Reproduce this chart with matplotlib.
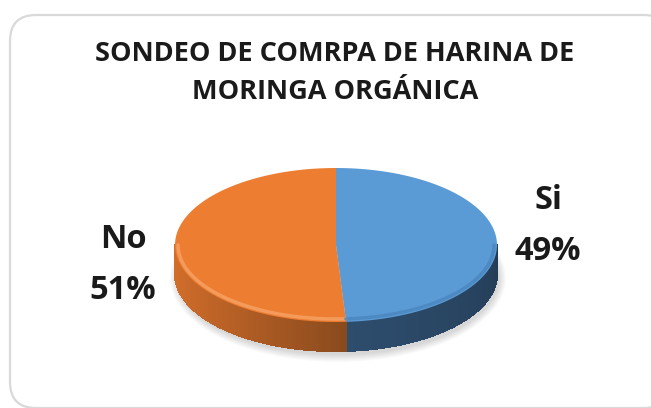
import numpy as np
import matplotlib.pyplot as plt
from matplotlib.colors import to_rgb
from matplotlib.patches import Polygon, FancyBboxPatch, Ellipse

# ── DATA ──────────────────────────────────────────
labels = ["Si", "No"]
values = [49, 51]
top_colors = ["#5B9BD5", "#ED7D31"]
side_light = ["#34587c", "#d36e2b"]
side_dark = ["#243d57", "#8a4a1d"]
title = "SONDEO DE COMRPA DE HARINA DE\nMORINGA ORGÁNICA"

# ── GEOMETRY (pixels) ─────────────────────────────
cx, cy = 336, 245
a, b = 161, 77
depth = 29

fig = plt.figure(figsize=(6.51, 4.08), dpi=100)
ax = fig.add_axes([0, 0, 1, 1])
ax.set_xlim(0, 651)
ax.set_ylim(408, 0)
ax.axis('off')

# chart frame
frame = FancyBboxPatch((10, 15), 660, 393, boxstyle="round,pad=0,rounding_size=26",
                       fc='white', ec='#d9d9d9', lw=1.6, zorder=0)
ax.add_patch(frame)

def pt(theta, dy=0):
    t = np.radians(theta)
    return cx + a * np.cos(t), cy - b * np.sin(t) + dy

# soft shadow
for i in range(8):
    ax.add_patch(Ellipse((cx + 2, cy + depth + 4), 2 * a + 14 - 2 * i, 2 * b + 14 - 2 * i,
                         fc='#000000', ec='none', alpha=0.018, zorder=1))

# slice angles (clockwise from 12 o'clock)
total = sum(values)
starts, ends = [], []
ang = 90.0
for v in values:
    starts.append(ang)
    ang -= 360.0 * v / total
    ends.append(ang)

# side walls (front half only)
for i in range(len(values)):
    seg_hi = min(starts[i], 0)
    seg_lo = max(ends[i], -180)
    if seg_hi <= seg_lo:
        continue
    n = 80
    th = np.linspace(seg_lo, seg_hi, n + 1)
    c1 = np.array(to_rgb(side_light[i]))
    c2 = np.array(to_rgb(side_dark[i]))
    for k in range(n):
        t0, t1 = th[k], th[k + 1]
        p0, p1 = pt(t0), pt(t1)
        q0, q1 = pt(t0, depth), pt(t1, depth)
        if i == 1:
            f = ((k + 0.5) / n) ** 1.5
        else:
            f = 0.4 + 0.6 * (k + 0.5) / n
        col = c1 * (1 - f) + c2 * f
        ax.add_patch(Polygon([p0, p1, q1, q0], closed=True, fc=col, ec=col, lw=0.8,
                             antialiased=False, zorder=2))

# top faces
for i in range(len(values)):
    th = np.linspace(starts[i], ends[i], 200)
    xs = cx + a * np.cos(np.radians(th))
    ys = cy - b * np.sin(np.radians(th))
    verts = [(cx, cy)] + list(zip(xs, ys))
    ax.add_patch(Polygon(verts, closed=True, fc=top_colors[i], ec='none', zorder=3))

# bevel highlight along the front top edge
th = np.linspace(-180, ends[0], 100)
ax.plot(cx + (a - 3) * np.cos(np.radians(th)), cy - (b - 3) * np.sin(np.radians(th)),
        color='#f6a266', lw=2.5, alpha=0.8, zorder=4, solid_capstyle='round')
th = np.linspace(ends[0], 0, 100)
ax.plot(cx + (a - 3) * np.cos(np.radians(th)), cy - (b - 3) * np.sin(np.radians(th)),
        color='#4a86bf', lw=2.5, alpha=0.8, zorder=4, solid_capstyle='round')

# title
ax.text(335, 73, title, ha='center', va='center', fontsize=19.5, fontweight='bold',
        family='Open Sans', linespacing=1.62, color='#1a1a1a', zorder=5)

# data labels
ax.text(548, 226, f"{labels[0]}\n{values[0]}%", ha='center', va='center', fontsize=23.5,
        fontweight='bold', family='Open Sans', linespacing=1.75, color='#1a1a1a', zorder=5)
ax.text(123, 265, f"{labels[1]}\n{values[1]}%", ha='center', va='center', fontsize=23.5,
        fontweight='bold', family='Open Sans', linespacing=1.75, color='#1a1a1a', zorder=5)

fig.savefig('out.png', dpi=100)
